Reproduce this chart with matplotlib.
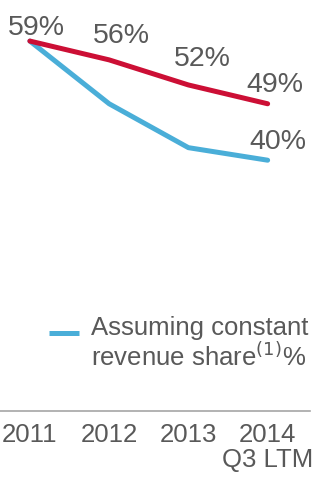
import matplotlib
matplotlib.use("Agg")
import matplotlib.pyplot as plt

plt.rcParams['font.family'] = ['Liberation Sans', 'DejaVu Sans']

years = ["2011", "2012", "2013", "2014\nQ3 LTM"]
actual_share = [59, 56, 52, 49]
constant_share = [59, 49, 42, 40]

# which points get a % label, and where it sits (pixels from the point)
red_label_offsets = [(6, 6), (12, 17), (14, 19), (7, 12)]
blue_label_offsets = {3: (10, 11)}

text_grey = "#595959"
red = "#CC0F35"
blue = "#4AAED8"

fig = plt.figure(figsize=(3.21, 4.79), dpi=100)
ax = fig.add_axes([0, 1 - 411 / 479, 310 / 321, 411 / 479])

x = list(range(len(years)))
ax.plot(x, actual_share, color=red, lw=3.6, solid_capstyle="round", zorder=3)
ax.plot(x, constant_share, color=blue, lw=3.6, solid_capstyle="round", zorder=2,
        label="Assuming constant\nrevenue share$^{(1)}$%")

for i, v in enumerate(actual_share):
    dx, dy = red_label_offsets[i]
    ax.annotate(f"{v}%", (i, v), xytext=(dx, dy), textcoords="offset pixels",
                ha="center", va="baseline", fontsize=20.5, color=text_grey)
for i, (dx, dy) in blue_label_offsets.items():
    ax.annotate(f"{constant_share[i]}%", (i, constant_share[i]), xytext=(dx, dy),
                textcoords="offset pixels", ha="center", va="baseline",
                fontsize=20.5, color=text_grey)

ax.set_xlim(-30 / 79.5, 281 / 79.5)
ax.set_ylim(0, 411 / 6.27)
ax.set_xticks(x)
ax.set_xticklabels(years, fontsize=18.5, color=text_grey, linespacing=1.05)
ax.tick_params(axis="x", length=0, pad=9)
ax.set_yticks([])
for s in ["top", "right", "left"]:
    ax.spines[s].set_visible(False)
ax.spines["bottom"].set_color("#A6A6A6")
ax.spines["bottom"].set_linewidth(1.2)

leg = ax.legend(loc="upper left", bbox_to_anchor=(49 / 321, 1 - 316 / 479),
                bbox_transform=fig.transFigure, frameon=False, fontsize=18.5,
                handlelength=1.15, handletextpad=0.5, borderpad=0,
                borderaxespad=0)
for t in leg.get_texts():
    t.set_color(text_grey)
    t.set_linespacing(1.1)
# legend swatch sits beside the first line of the label, not the middle
for h in leg.legend_handles:
    h.set_solid_capstyle("butt")
    h.set_ydata([y + 8 for y in h.get_ydata()])

fig.savefig("out.png", dpi=100)
